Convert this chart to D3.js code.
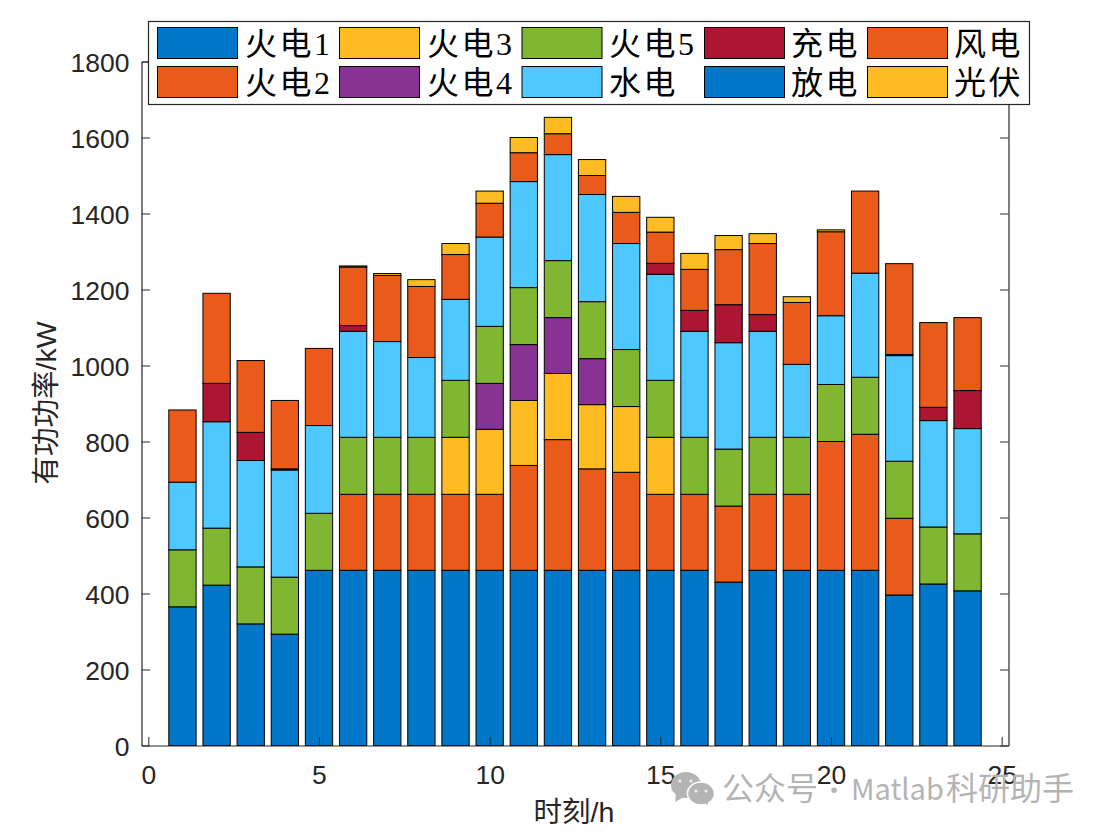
<!DOCTYPE html>
<html><head><meta charset="utf-8">
<script src="https://cdn.jsdelivr.net/npm/d3@7"></script>
<style>html,body{margin:0;padding:0;background:#fff}svg{display:block}</style>
</head><body><svg id="c" width="1113" height="834"></svg>
<script>
const hours = d3.range(1, 25);
const thermal1 = [365,422,320,293,461,461,461,461,461,461,461,461,461,461,461,461,430,461,461,461,461,396,425,407];
const thermal2 = [0,0,0,0,0,200,200,200,200,200,276,344,267,258,200,200,200,200,200,339,358,202,0,0];
const thermal3 = [0,0,0,0,0,0,0,0,150,171,171,174,169,173,150,0,0,0,0,0,0,0,0,0];
const thermal4 = [0,0,0,0,0,0,0,0,0,121,147,147,121,0,0,0,0,0,0,0,0,0,0,0];
const thermal5 = [150,150,150,150,150,150,150,150,150,150,150,150,150,150,150,150,150,150,150,150,150,150,150,150];
const hydro = [178,280,280,282,231,279,252,210,213,235,279,279,282,279,279,279,280,279,192,181,274,278,280,277];
const charge = [0,101,74,3,0,15,0,0,0,0,0,0,0,0,29,55,100,44,0,0,0,3,35,100];
const discharge = [0,0,0,0,0,0,0,0,0,0,0,0,0,0,0,0,0,0,0,0,0,0,0,0];
const wind = [190,237,189,180,203,154,174,187,118,89,76,55,50,82,82,108,145,187,163,221,216,239,223,192];
const solar = [0,0,0,0,0,3,5,18,29,32,40,43,42,42,39,42,37,26,15,5,0,0,0,0];
const seriesNames = ["火电1","火电2","火电3","火电4","火电5","水电","充电","放电","风电","光伏"];
const seriesValues = [thermal1,thermal2,thermal3,thermal4,thermal5,hydro,charge,discharge,wind,solar];
const seriesColors = ["#0077C8","#E95A1B","#FFBB22","#883394","#80B632","#4FC8FF","#AD1633","#0077C8","#E95A1B","#FFBB22"];
const xTicks = [0,5,10,15,20,25];
const yTicks = d3.range(0,1801,200);

const svg = d3.select("#c");
const L = 141.5, R = 1008.5, T = 61.5, B = 745.5;
const x = d3.scaleLinear().domain([-0.2,25.2]).range([L,R]);
const y = d3.scaleLinear().domain([0,1800]).range([B,T]);
const ink = "#262626";
const latin = "'Liberation Sans',Arial,sans-serif";
const titleFont = "'Liberation Sans','Noto Sans CJK SC',sans-serif";
const cjk = "'Liberation Serif','Noto Sans CJK SC',serif";
const fmt = d3.format("d");

const rows = hours.map((h,i)=>{const o={h};seriesNames.forEach((n,s)=>o[n]=seriesValues[s][i]);return o;});
const stack = d3.stack().keys(seriesNames)(rows);
const barW = x(0.8)-x(0);

svg.append("g").selectAll("g").data(stack).join("g")
  .attr("fill",(d,i)=>seriesColors[i])
  .selectAll("rect").data(d=>d.filter(p=>p[1]-p[0]>0)).join("rect")
  .attr("x",d=>x(d.data.h)-barW/2).attr("width",barW)
  .attr("y",d=>y(d[1])).attr("height",d=>y(d[0])-y(d[1]))
  .attr("stroke","#000").attr("stroke-width",1);

function style(g,noText){
  g.selectAll(".domain").attr("stroke",ink).attr("stroke-width",1.2);
  g.selectAll("line").attr("stroke",ink).attr("stroke-width",1);
  g.selectAll("text").attr("fill",ink).style("font-family",latin).style("font-size","26.5px");
  if(noText) g.selectAll("text").remove();
}
const tl=8.5;
svg.append("g").attr("transform",`translate(0,${B})`)
  .call(d3.axisBottom(x).tickValues(xTicks).tickFormat(fmt).tickSizeInner(-tl).tickSizeOuter(0).tickPadding(19.5)).call(style);
svg.append("g").attr("transform",`translate(0,${T})`)
  .call(d3.axisTop(x).tickValues(xTicks).tickSizeInner(-tl).tickSizeOuter(0)).call(g=>style(g,true));
svg.append("g").attr("transform",`translate(${L},0)`)
  .call(d3.axisLeft(y).tickValues(yTicks).tickFormat(fmt).tickSizeInner(-tl).tickSizeOuter(0).tickPadding(12)).call(style)
  .call(g=>g.selectAll("text").attr("dy","0.37em"));
svg.append("g").attr("transform",`translate(${R},0)`)
  .call(d3.axisRight(y).tickValues(yTicks).tickSizeInner(-tl).tickSizeOuter(0)).call(g=>style(g,true));

svg.append("text").attr("x",574).attr("y",822).attr("text-anchor","middle")
  .attr("fill",ink).style("font-family",titleFont).style("font-size","28.5px").text("时刻/h");
svg.append("text").attr("transform","translate(55.5,403) rotate(-90)").attr("text-anchor","middle")
  .attr("fill",ink).style("font-family",titleFont).style("font-size","28.5px").text("有功功率/kW");

// legend
const lg = svg.append("g");
lg.append("rect").attr("x",148.5).attr("y",21.5).attr("width",881).attr("height",83)
  .attr("fill","#fff").attr("stroke",ink).attr("stroke-width",1.2);
const colX = [157.5,339.5,522,704.5,867.5];
const labelX = [245,427,609,791,954];
const rowY = [27.5,66.5];
const legendIdx = [[0,1],[2,3],[4,5],[6,7],[8,9]];
legendIdx.forEach((col,c)=>col.forEach((s,r)=>{
  lg.append("rect").attr("x",colX[c]).attr("y",rowY[r]).attr("width",80).attr("height",31)
    .attr("fill",seriesColors[s]).attr("stroke","#000").attr("stroke-width",1);
  lg.append("text").attr("x",labelX[c]).attr("y",rowY[r]+27.5).attr("fill","#000")
    .style("font-family",cjk).style("font-size","32px").style("letter-spacing","2.5px").text(seriesNames[s]);
}));

// watermark
const wmColor = "#b4b4b4";
const wm = svg.append("g").attr("fill",wmColor);
wm.append("ellipse").attr("cx",686).attr("cy",785).attr("rx",15).attr("ry",13);
wm.append("path").attr("d","M676 793 L675 802 L684 797 Z");
wm.append("ellipse").attr("cx",701).attr("cy",793.5).attr("rx",13.5).attr("ry",11.5).attr("stroke","#fff").attr("stroke-width",1.5);
wm.append("path").attr("d","M705 803 L708 805 L708 801 Z");
[[680,781],[691,781],[696,791],[706,791]].forEach(p=>
  wm.append("circle").attr("cx",p[0]).attr("cy",p[1]).attr("r",1.6).attr("fill","#eee"));
const wt = svg.append("text").attr("y",800).attr("fill",wmColor)
  .style("font-family","'Noto Sans CJK SC','Noto Sans',sans-serif").style("font-size","32px");
wt.append("tspan").attr("x",722).text("公众号");
wt.append("tspan").attr("x",821).style("font-size","26px").text("·");
wt.append("tspan").attr("x",851).style("font-size","29px").text("Matlab");
wt.append("tspan").attr("x",946).text("科研助手");
</script></body></html>
